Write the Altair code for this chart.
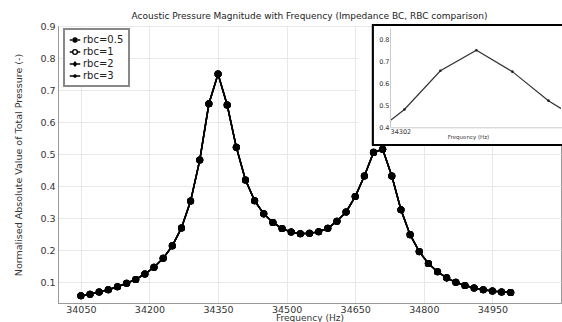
import altair as alt
import pandas as pd

# ---- data ----
freqs = [34050, 34070, 34090, 34110, 34130, 34150, 34170, 34190, 34210, 34230,
         34250, 34270, 34290, 34310, 34330, 34350, 34370, 34390, 34410, 34430,
         34450, 34470, 34490, 34510, 34530, 34550, 34570, 34590, 34610, 34630,
         34650, 34670, 34690, 34710, 34730, 34750, 34770, 34790, 34810, 34830,
         34850, 34870, 34890, 34910, 34930, 34950, 34970, 34990]
pressure = [0.057, 0.062, 0.069, 0.076, 0.085, 0.096, 0.108, 0.125, 0.146, 0.174,
            0.213, 0.269, 0.353, 0.481, 0.657, 0.750, 0.653, 0.521, 0.419, 0.354,
            0.313, 0.286, 0.267, 0.256, 0.251, 0.252, 0.257, 0.268, 0.290, 0.319,
            0.367, 0.431, 0.505, 0.515, 0.431, 0.326, 0.248, 0.195, 0.158, 0.132,
            0.113, 0.099, 0.089, 0.081, 0.076, 0.072, 0.069, 0.067]
series_names = ["rbc=0.5", "rbc=1", "rbc=2", "rbc=3"]
x_ticks = [34050, 34200, 34350, 34500, 34650, 34800, 34950]
y_ticks = [0.1, 0.2, 0.3, 0.4, 0.5, 0.6, 0.7, 0.8, 0.9]
inset_x_ticks = [34302]
inset_y_ticks = [0.4, 0.5, 0.6, 0.7, 0.8]

title_text = "Acoustic Pressure Magnitude with Frequency (Impedance BC, RBC comparison)"
y_title = "Normalised Absolute Value of Total Pressure (-)"
x_title = "Frequency (Hz)"

rows = []
for s in series_names:
    for f, p in zip(freqs, pressure):
        rows.append({"freq": f, "p": p, "series": s})
df = pd.DataFrame(rows)
legend_df = pd.DataFrame({"series": series_names})

W, H = 503, 277
FONT = "DejaVu Sans"

legend_paths = [
    "M-1,0H1M0,-0.55V0.55M-0.4,-0.4L0.4,0.4M-0.4,0.4L0.4,-0.4",
    "M-1,0H-0.45M0.45,0H1M0.45,0A0.45,0.45,0,1,1,-0.45,0A0.45,0.45,0,1,1,0.45,0Z",
    "M-1,0H1M0,-0.5V0.5M0,-0.35L0.3,0L0,0.35L-0.3,0Z",
    "M-1,0H1M0.22,0A0.22,0.22,0,1,1,-0.22,0A0.22,0.22,0,1,1,0.22,0Z",
]

x_main = alt.X("freq:Q", scale=alt.Scale(domain=[34000, 35100], nice=False, zero=False),
               axis=alt.Axis(values=x_ticks, format="d", title=x_title, titleFontSize=9,
                             titleY=10.5, titleBaseline="top", labelPadding=1))
y_main = alt.Y("p:Q", scale=alt.Scale(domain=[0.0344, 0.9], nice=False, zero=False),
               axis=alt.Axis(values=y_ticks, format=".1f", title=y_title, titlePadding=16))

main_line = alt.Chart(df).mark_line(color="black", strokeWidth=1.5).encode(
    x=x_main, y=y_main, detail="series:N")
main_pts = alt.Chart(df).mark_circle(color="black", size=50, opacity=1).encode(
    x=x_main, y=y_main, detail="series:N")
legend_layer = alt.Chart(legend_df).mark_point(filled=False, color="black", opacity=0).encode(
    shape=alt.Shape("series:N",
                    scale=alt.Scale(domain=series_names, range=legend_paths),
                    legend=alt.Legend(title=None, orient="none", legendX=6, legendY=3,
                                      padding=5, rowPadding=0, labelOffset=2,
                                      symbolSize=110, symbolStrokeWidth=1.4,
                                      symbolStrokeColor="black", symbolFillColor="transparent",
                                      labelFontSize=10, labelFont=FONT, labelColor="#222",
                                      strokeColor="#888", fillColor="white")))
main = alt.layer(main_line, main_pts, legend_layer)

# ---- inset ----
x_in = alt.X("freq:Q", scale=alt.Scale(domain=[34302, 34400], range=[332, 508.4], nice=False, zero=False),
             axis=alt.Axis(orient="bottom", offset=-175.7, values=inset_x_ticks, format="d",
                           labelFontSize=6.5, labelPadding=1, ticks=False, grid=False,
                           domainColor="#ccc", title=x_title, titleFontSize=5.5,
                           titlePadding=0, titleX=410, zindex=2))
y_in = alt.Y("p:Q", scale=alt.Scale(domain=[0.4, 0.85], range=[101.3, 2.3], nice=False, zero=False),
             axis=alt.Axis(orient="left", offset=-332, values=inset_y_ticks, format=".1f",
                           labelFontSize=6.5, labelPadding=1, ticks=False, grid=False,
                           domainColor="#ccc", title=None, zindex=2))

inset_bg = alt.Chart(legend_df).mark_rect(fill="white", stroke=None).encode(
    x=alt.value(314.7), x2=alt.value(520), y=alt.value(0), y2=alt.value(119))
inset_src = alt.Chart(df[df.series == series_names[-1]]).transform_filter(
    (alt.datum.freq >= 34290) & (alt.datum.freq <= 34410))
inset_line = inset_src.mark_line(color="#333", strokeWidth=1.2, clip=True).encode(x=x_in, y=y_in)
inset_pts = inset_src.mark_circle(color="#222", size=7, opacity=1, clip=True).encode(x=x_in, y=y_in)
inset = alt.layer(inset_line, inset_pts)
mask = alt.Chart(legend_df).mark_rect(fill="white").encode(
    x=alt.value(300), x2=alt.value(331.5), y=alt.value(1), y2=alt.value(118))
frame = alt.Chart(legend_df).mark_rect(fill=None, fillOpacity=0, stroke="black", strokeWidth=1.5).encode(
    x=alt.value(314.7), x2=alt.value(520), y=alt.value(-1), y2=alt.value(119))

chart = alt.layer(main, inset_bg, inset, mask, frame).resolve_scale(
    x="independent", y="independent", shape="independent"
).properties(
    width=W, height=H,
    title=alt.TitleParams(title_text, fontSize=9, font=FONT, fontWeight="normal",
                          color="#222", anchor="middle", offset=0),
    autosize=alt.AutoSizeParams(type="none"),
    padding={"left": 58, "top": 26, "right": 1, "bottom": 20},
).configure_view(stroke="#999", strokeWidth=1).configure_axis(
    labelFont=FONT, labelFontSize=9.5, labelColor="#333", titleFont=FONT,
    titleFontSize=9.5, titleFontWeight="normal", titleColor="#333",
    domainColor="#999", gridColor="#e8e8e8", ticks=False, labelPadding=3
).configure_legend(strokeWidth=2)

chart.save("out.html", embed_options={"renderer": "svg", "actions": False})
